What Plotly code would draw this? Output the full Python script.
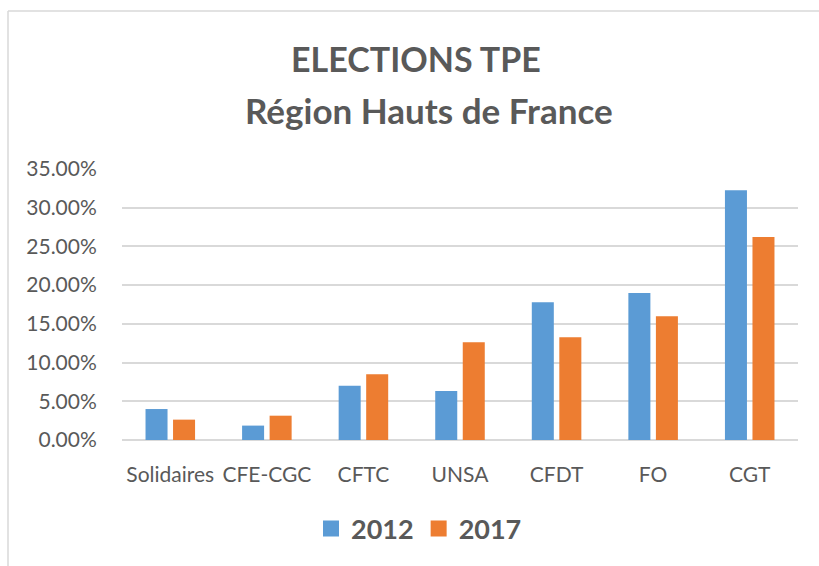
import plotly.graph_objects as go

categories = ["Solidaires", "CFE-CGC", "CFTC", "UNSA", "CFDT", "FO", "CGT"]
values_2012 = [0.0400, 0.0186, 0.0702, 0.0633, 0.1778, 0.1898, 0.3224]
values_2017 = [0.0263, 0.0314, 0.0848, 0.1261, 0.1326, 0.1597, 0.2622]
y_ticks = [0, 0.05, 0.10, 0.15, 0.20, 0.25, 0.30, 0.35]

FONT = "Lato"
GREY = "#595959"
BLUE = "#5B9BD5"
ORANGE = "#ED7D31"

fig = go.Figure()
fig.add_trace(go.Bar(name="2012", x=categories, y=values_2012, marker_color=BLUE,
                     marker_line_width=0, showlegend=False))
fig.add_trace(go.Bar(name="2017", x=categories, y=values_2017, marker_color=ORANGE,
                     marker_line_width=0, showlegend=False))
# legend proxies (square swatches like the reference)
for nm, col in (("2012", BLUE), ("2017", ORANGE)):
    fig.add_trace(go.Scatter(name=nm, x=[None], y=[None], mode="markers",
                             marker=dict(symbol="square", size=18, color=col),
                             showlegend=True))

W, H = 819, 566
L, R, T, B = 122, 21, 169, 126
pw, ph = W - L - R, H - T - B

def px(x):
    return (x - L) / pw

def py(y):
    return (H - B - y) / ph

frame = dict(color="#d9d9d9", width=1.5)

fig.update_layout(
    width=W, height=H,
    margin=dict(l=L, r=R, t=T, b=B, autoexpand=False),
    paper_bgcolor="white", plot_bgcolor="white",
    barmode="group", bargap=0.43, bargroupgap=0.2,
    font=dict(family=FONT, color=GREY),
    showlegend=True,
    legend=dict(orientation="h", x=px(419), xanchor="center", y=py(529), yanchor="middle",
                font=dict(size=27, family=FONT, color=GREY, weight="bold"),
                itemwidth=30, traceorder="normal", tracegroupgap=0),
    xaxis=dict(showgrid=False, showline=False, zeroline=False,
               ticks="outside", ticklen=16, tickcolor="rgba(0,0,0,0)",
               tickfont=dict(size=21, color=GREY, family=FONT)),
    yaxis=dict(range=[0, 0.35], tickvals=y_ticks, tickformat=".2%",
               showgrid=True, gridcolor="#d9d9d9", gridwidth=1.5,
               zeroline=True, zerolinecolor="#d9d9d9", zerolinewidth=1.5,
               showline=False, ticks="outside", ticklen=20, tickcolor="rgba(0,0,0,0)",
               tickfont=dict(size=21, color=GREY, family=FONT)),
    annotations=[
        dict(text="<b>ELECTIONS TPE</b>", x=px(416), y=py(59), xref="paper", yref="paper",
             showarrow=False, xanchor="center", yanchor="middle",
             font=dict(size=34, color=GREY, family=FONT)),
        dict(text="<b>Région Hauts de France</b>", x=px(429), y=py(110), xref="paper", yref="paper",
             showarrow=False, xanchor="center", yanchor="middle",
             font=dict(size=35, color=GREY, family=FONT)),
    ],
    shapes=[
        dict(type="line", xref="paper", yref="paper",
             x0=px(8), x1=px(W), y0=py(11), y1=py(11), line=frame, layer="below"),
        dict(type="line", xref="paper", yref="paper",
             x0=px(8), x1=px(8), y0=py(11), y1=py(H), line=frame, layer="below"),
    ],
)

fig.write_html("out.html", config={"displayModeBar": False},
               post_script="document.body.style.margin='0';document.body.style.overflow='hidden';")
